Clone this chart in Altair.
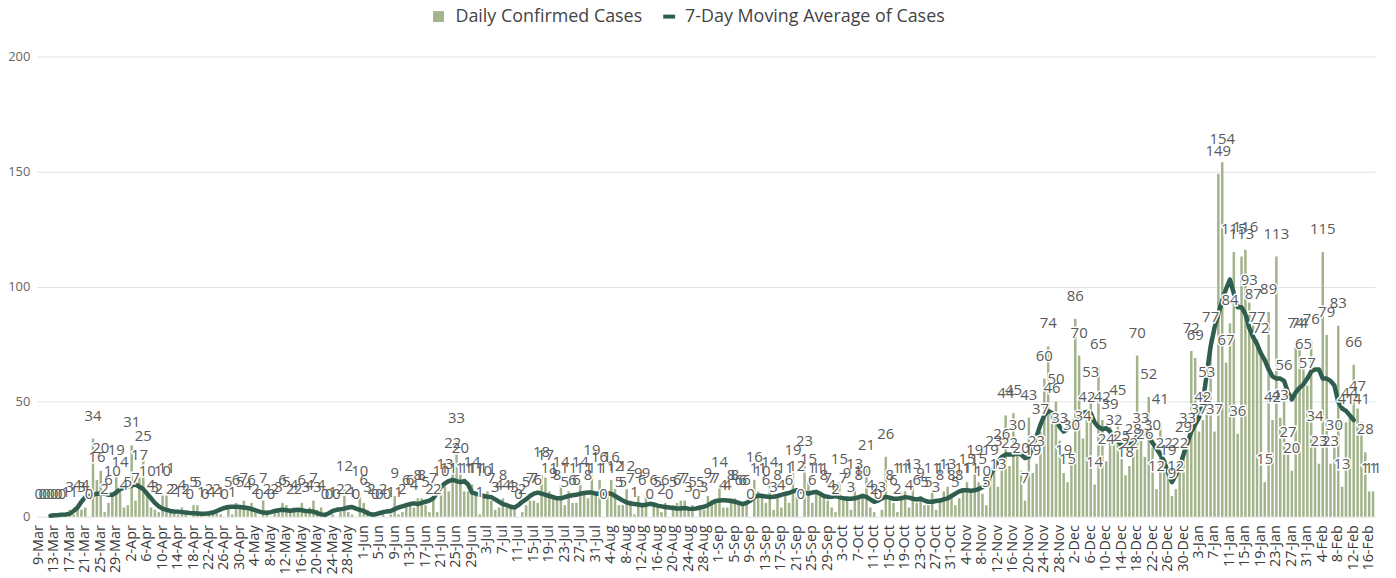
import altair as alt
import pandas as pd

# Daily confirmed cases, 9-Mar-2020 .. 17-Feb-2021
cases = [
    0, 0, 0, 0, 0, 0, 0, 1, 3, 1,
    4, 3, 4, 0, 34, 16, 20, 2, 6, 10,
    19, 14, 4, 5, 31, 7, 17, 25, 10, 4,
    3, 2, 10, 11, 2, 2, 1, 4, 2, 0,
    5, 5, 1, 0, 2, 1, 2, 1, 0, 5,
    1, 6, 5, 7, 4, 6, 2, 0, 7, 2,
    0, 2, 3, 6, 5, 2, 4, 2, 6, 3,
    4, 7, 3, 4, 0, 0, 1, 0, 2, 12,
    2, 1, 0, 10, 6, 3, 2, 0, 0, 2,
    0, 1, 9, 1, 2, 6, 6, 4, 8, 8,
    5, 2, 7, 2, 10, 13, 11, 22, 33, 20,
    11, 11, 14, 11, 1, 10, 11, 7, 3, 4,
    8, 4, 4, 3, 0, 2, 5, 7, 7, 6,
    18, 17, 11, 9, 8, 14, 5, 11, 6, 6,
    14, 11, 8, 19, 11, 16, 0, 11, 16, 12,
    5, 5, 12, 7, 1, 9, 6, 9, 0, 6,
    5, 2, 6, 0, 5, 6, 7, 7, 3, 5,
    0, 5, 3, 9, 7, 7, 14, 4, 4, 8,
    8, 6, 6, 6, 0, 16, 11, 10, 6, 14,
    3, 8, 4, 11, 6, 19, 12, 0, 23, 15,
    6, 11, 11, 8, 7, 4, 2, 15, 7, 9,
    3, 13, 8, 10, 21, 4, 2, 0, 3, 26,
    8, 6, 2, 11, 11, 4, 13, 6, 9, 5,
    5, 11, 3, 8, 11, 13, 8, 5, 8, 11,
    15, 11, 19, 15, 10, 5, 19, 23, 13, 26,
    44, 22, 45, 30, 20, 7, 43, 19, 23, 37,
    60, 74, 46, 50, 33, 19, 15, 30, 86, 70,
    34, 42, 53, 14, 65, 42, 24, 39, 32, 45,
    25, 18, 22, 28, 70, 33, 26, 52, 30, 12,
    41, 22, 19, 9, 12, 22, 29, 33, 72, 69,
    37, 42, 53, 77, 37, 149, 154, 67, 84, 115,
    36, 113, 116, 93, 87, 77, 72, 15, 89, 42,
    113, 43, 56, 27, 20, 74, 74, 65, 57, 76,
    34, 23, 115, 79, 23, 30, 83, 13, 41, 44,
    66, 47, 41, 28, 11, 11,
]

# 7-day moving average
moving_avg = [
    None, None, None, 0.4, 0.6, 0.7, 0.9, 1.0, 1.3, 2.5,
    4, 6.5, 8.5, 9, 9.5, 10, 10, 10, 9.5, 9.5,
    10.5, 12, 12.5, 13, 13.5, 14, 13, 12, 10, 8,
    6, 4.5, 3.5, 3, 2.5, 2.3, 2.2, 2, 1.8, 1.6,
    1.5, 1.4, 1.3, 1.3, 1.5, 1.8, 2.5, 3.2, 3.8, 4.2,
    4.3, 4.3, 4.2, 4, 3.8, 3.3, 2.8, 2.2, 1.8, 1.7,
    2, 2.5, 2.8, 3, 2.8, 2.6, 2.8, 3, 2.8, 2.5,
    2.4, 2.2, 1.5, 1, 0.8, 1.5, 2.5, 3, 3.2, 3.5,
    4, 4.2, 3.5, 3, 2.5, 1.5, 1, 1, 1.5, 2,
    2.3, 2.5, 3.3, 4, 4.5, 5, 5.5, 5.8, 5.5, 6,
    6.5, 7, 8, 10.5, 13, 14.5, 15.5, 16, 15.5, 15,
    15.5, 14, 10.5, 10, 9.5, 9, 8.7, 8.5, 7.5, 6.5,
    5.5, 5, 4.3, 4, 5, 6.5, 7.5, 9, 10, 10.5,
    10, 9.5, 9, 8.5, 8, 8, 8.5, 9, 9.3, 9.5,
    10, 10.3, 10.5, 10.5, 10, 10, 10, 10.2, 10, 9,
    8, 7, 6.2, 5.7, 5.5, 5.3, 5, 5.2, 5.6, 5.3,
    4.8, 4.5, 4.2, 4, 3.8, 3.6, 3.6, 3.8, 3.5, 3.4,
    3.6, 4, 4.3, 5, 6, 6.8, 7, 7.2, 7, 6.8,
    6.5, 6, 5.5, 6, 7, 8.5, 9.2, 9, 8.8, 8.6,
    8.7, 9, 9.5, 10, 10.3, 11, 11.5, 11, 10.5, 10,
    10.5, 10.8, 10, 9, 8.6, 8.7, 9, 8.5, 8, 7.8,
    7.8, 8, 8.5, 9, 8.6, 7.5, 6.5, 7, 8, 8.6,
    8.3, 7.8, 7.8, 8, 8.5, 8.3, 7.8, 7.5, 7.8, 7,
    6.5, 6.5, 6.8, 7, 7.5, 8, 9, 10, 11, 11.5,
    11.5, 11.3, 11.5, 12, 12.8, 14, 18, 21, 24, 26,
    27, 27, 27, 27.5, 27, 25.5, 26, 30, 35, 40,
    44, 46, 45, 42, 39, 37, 38, 40, 42, 44,
    45, 45.5, 45, 41, 39, 38, 38.5, 37, 35, 33,
    31, 31, 32, 33, 35, 36, 36.5, 35, 32, 29.5,
    27, 24, 19, 15, 18, 22, 27, 32, 37, 40,
    43, 50, 62, 74, 82, 88, 94, 99, 103, 97,
    91, 91, 88, 82, 78, 75, 71, 68, 64, 61,
    60, 60, 59, 54, 51, 54, 56, 57.5, 60, 63,
    64, 64, 60, 60, 59, 57, 50, 47, 46, 44,
    42, None, None, None, None, None,
]

dates = pd.date_range("2020-03-09", periods=len(cases), freq="D")
days = [f"{d.day}-{d.strftime('%b')}" for d in dates]
tick_labels = days[::4]

series_bar = "Daily Confirmed Cases"
series_line = "7-Day Moving Average of Cases"

df = pd.DataFrame({
    "day": days,
    "cases": cases,
    "ma": moving_avg,
    "s1": series_bar,
    "s2": series_line,
})

FONT = "Open Sans"
BAR_COLOR = "#a3b48c"
LINE_COLOR = "#2f5e4e"

x_enc = alt.X(
    "day:N",
    sort=None,
    scale=alt.Scale(domain=days, paddingInner=0.35, paddingOuter=0.2),
    axis=alt.Axis(
        values=tick_labels, labelAngle=-90, labelFontSize=14.5, labelFont=FONT,
        labelColor="#3a3a3a", ticks=False, tickSize=0, domain=False, grid=False,
        labelPadding=8, title=None, labelOverlap=False,
    ),
)
y_scale = alt.Scale(domain=[0, 200], nice=False)

base = alt.Chart(df)

bars = base.mark_bar().encode(
    x=x_enc,
    y=alt.Y(
        "cases:Q", scale=y_scale,
        axis=alt.Axis(
            values=[0, 50, 100, 150, 200], labelFontSize=13, labelFont=FONT,
            labelColor="#666666", domain=False, ticks=False, tickSize=0,
            gridColor="#e3e3e3", labelPadding=7, title=None,
        ),
    ),
    color=alt.Color(
        "s1:N",
        scale=alt.Scale(domain=[series_bar], range=[BAR_COLOR]),
        legend=alt.Legend(
            orient="none", legendX=395, legendY=-49, title=None,
            symbolType="square", symbolSize=121, symbolStrokeWidth=0,
            labelFont=FONT, labelFontSize=18, labelColor="#444444",
            labelOffset=8, padding=0, labelLimit=0,
        ),
    ),
)

line = base.mark_line(strokeWidth=4.5, strokeCap="round", strokeJoin="round").encode(
    x=x_enc,
    y=alt.Y("ma:Q", scale=y_scale),
    color=alt.Color(
        "s2:N",
        scale=alt.Scale(domain=[series_line], range=[LINE_COLOR]),
        legend=alt.Legend(
            orient="none", legendX=627, legendY=-49, title=None,
            symbolType="stroke", symbolSize=144, symbolStrokeWidth=4,
            labelFont=FONT, labelFontSize=18, labelColor="#444444",
            labelOffset=7, padding=0, labelLimit=0,
        ),
    ),
)

halo = base.mark_text(
    font=FONT, fontSize=15, baseline="bottom", dy=-15,
    stroke="white", strokeWidth=3, fill="white",
).encode(x=x_enc, y=alt.Y("cases:Q", scale=y_scale), text="cases:Q")

labels = base.mark_text(
    font=FONT, fontSize=15, baseline="bottom", dy=-15, color="#5a5a5a",
).encode(x=x_enc, y=alt.Y("cases:Q", scale=y_scale), text="cases:Q")

chart = (
    alt.layer(bars, line, halo, labels)
    .resolve_scale(color="independent")
    .properties(
        width=1346, height=463,
        autosize=alt.AutoSizeParams(type="none"),
        padding={"left": 29, "top": 47, "right": 13, "bottom": 60},
    )
    .configure_view(stroke=None)
)

chart.save("out.html", embed_options={"renderer": "svg", "actions": False})
